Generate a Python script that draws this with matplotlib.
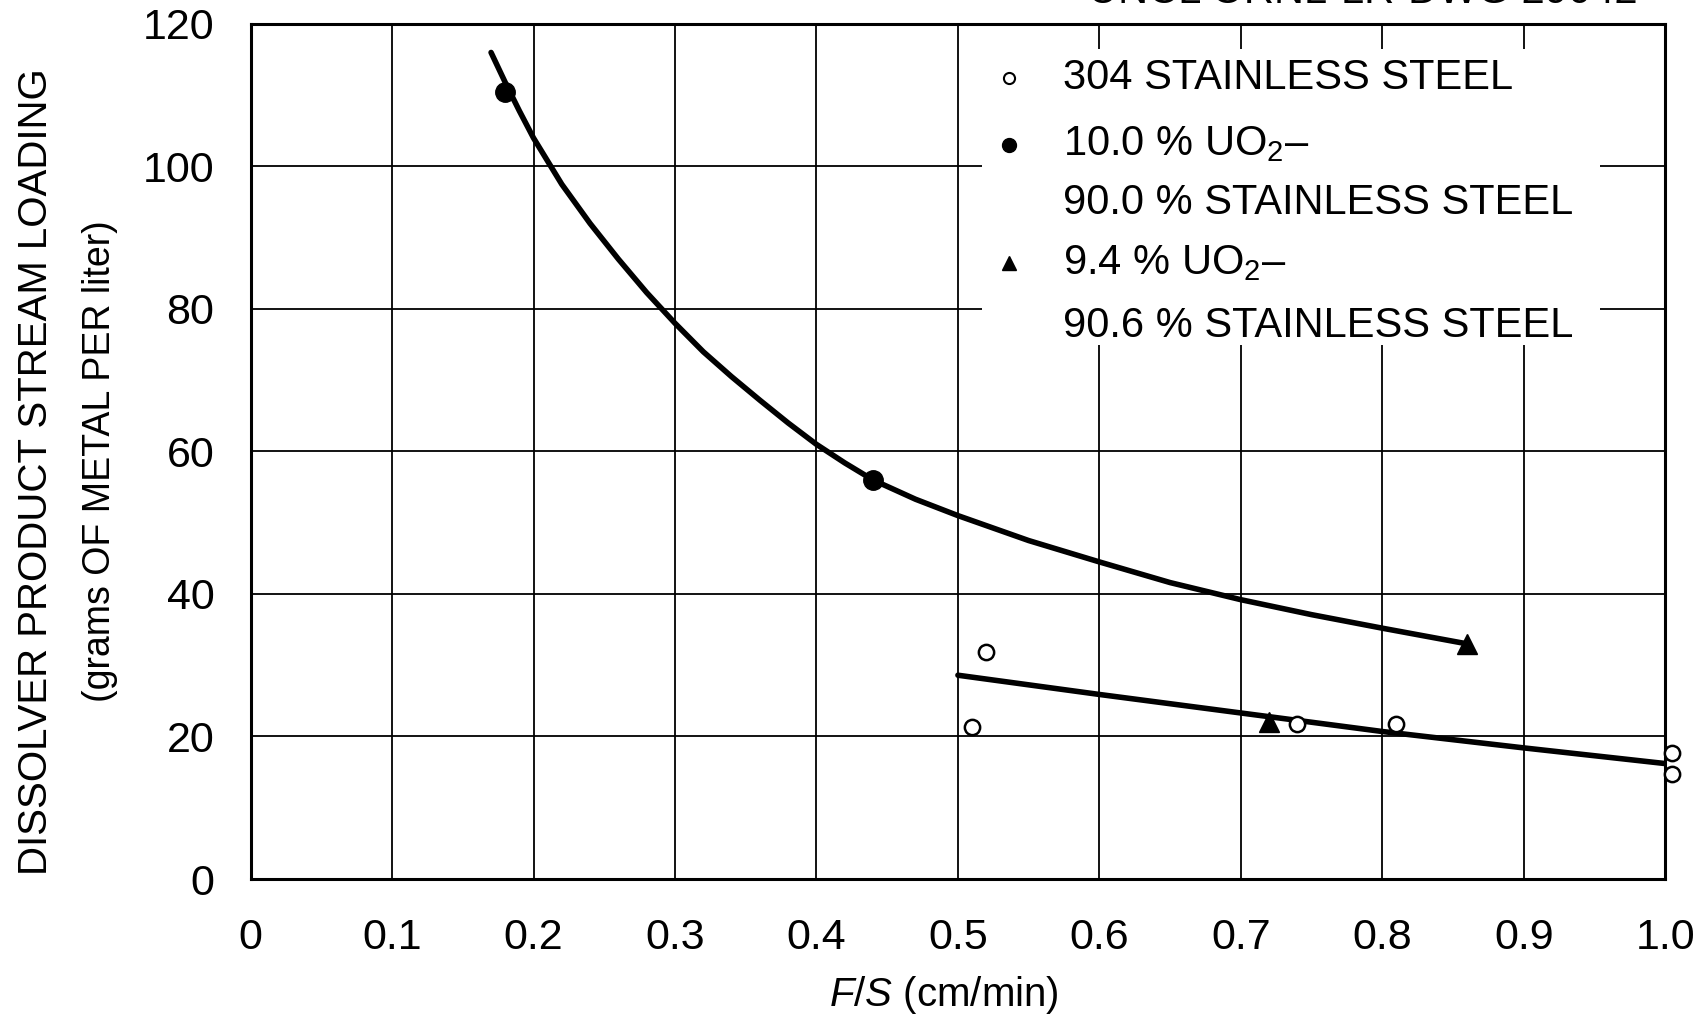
import matplotlib
matplotlib.use("Agg")
import matplotlib.pyplot as plt
from matplotlib.patches import Rectangle

plt.rcParams['font.family'] = ['Liberation Sans Narrow', 'Liberation Sans', 'DejaVu Sans']
plt.rcParams['mathtext.fontset'] = 'custom'
plt.rcParams['mathtext.rm'] = 'Liberation Sans'
plt.rcParams['mathtext.it'] = 'Liberation Sans:italic'

# ---- data ----
ss304_x = [0.51, 0.52, 0.74, 0.81, 1.005, 1.005]
ss304_y = [21.3, 31.8, 21.8, 21.8, 17.7, 14.8]

uo2_100_x = [0.18, 0.44]
uo2_100_y = [110.5, 56.0]

uo2_94_x = [0.72, 0.86]
uo2_94_y = [22.0, 33.0]

upper_curve_x = [0.17, 0.18, 0.19, 0.20, 0.22, 0.24, 0.26, 0.28, 0.30, 0.32, 0.34, 0.36,
                 0.38, 0.40, 0.42, 0.44, 0.47, 0.50, 0.55, 0.60, 0.65, 0.70, 0.75, 0.80, 0.86]
upper_curve_y = [116.0, 111.8, 107.8, 104.0, 97.5, 92.0, 87.0, 82.3, 78.0, 74.0, 70.5, 67.2,
                 64.0, 61.0, 58.4, 56.0, 53.3, 51.0, 47.5, 44.5, 41.6, 39.2, 37.1, 35.2, 33.0]

lower_curve_x = [0.50, 0.60, 0.70, 0.80, 0.90, 1.00]
lower_curve_y = [28.6, 25.9, 23.3, 20.7, 18.4, 16.2]

x_ticks = [0, 0.1, 0.2, 0.3, 0.4, 0.5, 0.6, 0.7, 0.8, 0.9, 1.0]
x_tick_labels = ['0', '0.1', '0.2', '0.3', '0.4', '0.5', '0.6', '0.7', '0.8', '0.9', '1.0']
y_ticks = [0, 20, 40, 60, 80, 100, 120]
y_tick_labels = ['0', '20', '40', '60', '80', '100', '120']

legend_labels = ['304 STAINLESS STEEL',
                 '10.0 % UO$_2$\u2013',
                 '90.0 % STAINLESS STEEL',
                 '9.4 % UO$_2$\u2013',
                 '90.6 % STAINLESS STEEL']

# ---- figure ----
fig = plt.figure(figsize=(17.01, 10.24), dpi=100)
ax = fig.add_axes([0.1473, 0.1416, 0.979 - 0.1473, 0.9766 - 0.1416])
ax.set_xlim(0, 1.0)
ax.set_ylim(0, 120)

ax.set_xticks(x_ticks)
ax.set_xticklabels(x_tick_labels)
ax.set_yticks(y_ticks)
ax.set_yticklabels(y_tick_labels)
ax.tick_params(axis='both', length=0, labelsize=31)
ax.tick_params(axis='x', pad=28)
ax.tick_params(axis='y', pad=26)
ax.grid(True, color='black', linewidth=1.3)
ax.set_axisbelow(True)
for s in ax.spines.values():
    s.set_linewidth(2.2)

ax.plot(upper_curve_x, upper_curve_y, color='black', lw=4, solid_capstyle='round',
        solid_joinstyle='round', zorder=3)
ax.plot(lower_curve_x, lower_curve_y, color='black', lw=4, solid_capstyle='round',
        solid_joinstyle='round', zorder=3)

ax.plot(ss304_x, ss304_y, 'o', mfc='white', mec='black', mew=1.8, ms=11, zorder=4, clip_on=False)
ax.plot(uo2_100_x, uo2_100_y, 'o', color='black', ms=14, zorder=4)
ax.plot(uo2_94_x, uo2_94_y, '^', color='black', ms=14, zorder=4)

# legend (manual, white box that hides the grid)
ax.add_patch(Rectangle((0.517, 0.624), 0.437, 0.347, transform=ax.transAxes,
                       facecolor='white', edgecolor='none', zorder=2.5))
mx, tx = 0.536, 0.574
ax.plot([mx], [0.937], 'o', transform=ax.transAxes, mfc='white', mec='black', mew=1.5, ms=8, zorder=5)
ax.plot([mx], [0.859], 'o', transform=ax.transAxes, color='black', ms=10, zorder=5)
ax.plot([mx], [0.720], '^', transform=ax.transAxes, color='black', ms=10, zorder=5)
for ypos, lab in zip([0.937, 0.859, 0.791, 0.720, 0.647], legend_labels):
    ax.text(tx, ypos, lab, transform=ax.transAxes, fontsize=30, va='center', ha='left', zorder=5)

# axis labels
fig.text(0.021, 0.539, 'DISSOLVER PRODUCT STREAM LOADING', rotation=90,
         fontsize=29, ha='center', va='center')
fig.text(0.059, 0.55, '(grams OF METAL PER liter)', rotation=90,
         fontsize=27, ha='center', va='center')
fig.text(0.555, 0.028, '$F/S$ (cm/min)', fontsize=29, ha='center', va='center')

# clipped drawing number at the top
fig.text(0.963, 0.988, 'UNCL ORNL-LR-DWG 29042', fontsize=30, ha='right', va='bottom')

fig.savefig('out.png', dpi=100)
